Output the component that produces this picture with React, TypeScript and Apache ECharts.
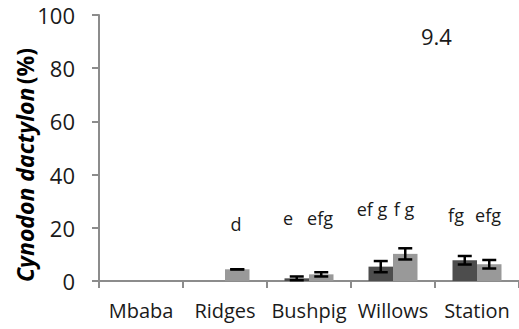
import React, { useEffect, useRef } from "react";
import * as echarts from "echarts";

// Sites along the transect
const categories = ["Mbaba", "Ridges", "Bushpig", "Willows", "Station"];

// Mean cover (%) and standard errors for the two treatments
const darkValues = [null, null, 1.0, 5.4, 7.8];
const darkErrors = [null, null, 0.7, 2.1, 1.6];
const lightValues = [null, 4.4, 2.5, 10.2, 6.3];
const lightErrors = [null, 0, 0.8, 2.1, 1.6];

// Significance letters and the level (%) they sit at
const darkLetters = ["", "", "e", "ef g", "fg"];
const lightLetters = ["", "d", "efg", "f g", "efg"];
const letterLevels = [null, 21.4, 23.6, 27, 25];

const yTicks = [0, 20, 40, 60, 80, 100];
const panelLabel = "9.4";

const FONT = "'Open Sans', sans-serif";
const BAR_W = 24.5;

function errorSeries(values: (number | null)[], errors: (number | null)[], offset: number) {
  return {
    type: "custom",
    z: 10,
    data: values.map((v, i) => [i, v, errors[i]]),
    renderItem: (_params: any, api: any) => {
      const v = api.value(1);
      const e = api.value(2);
      if (v == null || isNaN(v) || e == null || isNaN(e)) return null;
      const hi = api.coord([api.value(0), v + e]);
      const lo = api.coord([api.value(0), v - e]);
      const x = hi[0] + offset;
      const style = { stroke: "#000", lineWidth: 2.5 };
      const cap = 7;
      return {
        type: "group",
        children: [
          { type: "line", shape: { x1: x, y1: hi[1], x2: x, y2: lo[1] }, style },
          { type: "line", shape: { x1: x - cap, y1: hi[1], x2: x + cap, y2: hi[1] }, style },
          { type: "line", shape: { x1: x - cap, y1: lo[1], x2: x + cap, y2: lo[1] }, style },
        ],
      };
    },
  };
}

function letterSeries(letters: string[], offset: number) {
  return {
    type: "custom",
    z: 11,
    data: letters.map((t, i) => [i, letterLevels[i], t]),
    renderItem: (params: any, api: any) => {
      const t = letters[params.dataIndex];
      const lvl = letterLevels[params.dataIndex];
      if (!t || lvl == null) return null;
      const p = api.coord([params.dataIndex, lvl]);
      return {
        type: "text",
        x: p[0] + offset,
        y: p[1],
        style: {
          text: t,
          fontSize: 18,
          fontFamily: FONT,
          fill: "#1a1a1a",
          align: "center",
          verticalAlign: "middle",
        },
      };
    },
  };
}

export default function App() {
  const ref = useRef<HTMLDivElement>(null);

  useEffect(() => {
    document.body.style.margin = "0";
    if (!ref.current) return;
    const chart = echarts.init(ref.current, null, { renderer: "svg" });
    chart.setOption({
      animation: false,
      backgroundColor: "#fff",
      title: {
        text: panelLabel,
        left: 416,
        top: 20,
        textStyle: { fontFamily: FONT, fontSize: 22, fontWeight: "normal", color: "#1a1a1a" },
      },
      // Vertical axis title, species name in italics
      graphic: [
        {
          type: "text",
          x: 25,
          y: 165,
          rotation: Math.PI / 2,
          style: {
            text: "{sp|Cynodon dactylon} {pc|(%)}",
            align: "center",
            verticalAlign: "middle",
            rich: {
              sp: { fontFamily: FONT, fontSize: 23, fontStyle: "italic", fontWeight: "bold", fill: "#000" },
              pc: { fontFamily: FONT, fontSize: 23, fontWeight: "bold", fill: "#000" },
            },
          },
        },
      ],
      grid: { left: 99, right: 0, top: 15, bottom: 48 },
      xAxis: {
        type: "category",
        data: categories,
        axisLine: { lineStyle: { color: "#8c8c8c", width: 2 } },
        axisTick: { show: true, length: 7, alignWithLabel: false, lineStyle: { color: "#8c8c8c", width: 2 } },
        axisLabel: { fontFamily: FONT, fontSize: 20, color: "#1a1a1a", margin: 19, interval: 0 },
      },
      yAxis: {
        type: "value",
        min: yTicks[0],
        max: yTicks[yTicks.length - 1],
        interval: 20,
        splitLine: { show: false },
        axisLine: { show: true, lineStyle: { color: "#8c8c8c", width: 2 } },
        axisTick: { show: true, length: 7, lineStyle: { color: "#8c8c8c", width: 2 } },
        axisLabel: { fontFamily: FONT, fontSize: 22, color: "#1a1a1a", margin: 24 },
      },
      series: [
        {
          type: "bar",
          data: darkValues,
          barWidth: BAR_W,
          barGap: "0%",
          itemStyle: { color: "#4d4d4d" },
        },
        {
          type: "bar",
          data: lightValues,
          barWidth: BAR_W,
          barGap: "0%",
          itemStyle: { color: "#999999" },
        },
        errorSeries(darkValues, darkErrors, -BAR_W / 2),
        errorSeries(lightValues, lightErrors, BAR_W / 2),
        letterSeries(darkLetters, -21),
        letterSeries(lightLetters, 11),
      ],
    });
    return () => chart.dispose();
  }, []);

  return <div ref={ref} style={{ width: 519, height: 329 }} />;
}
